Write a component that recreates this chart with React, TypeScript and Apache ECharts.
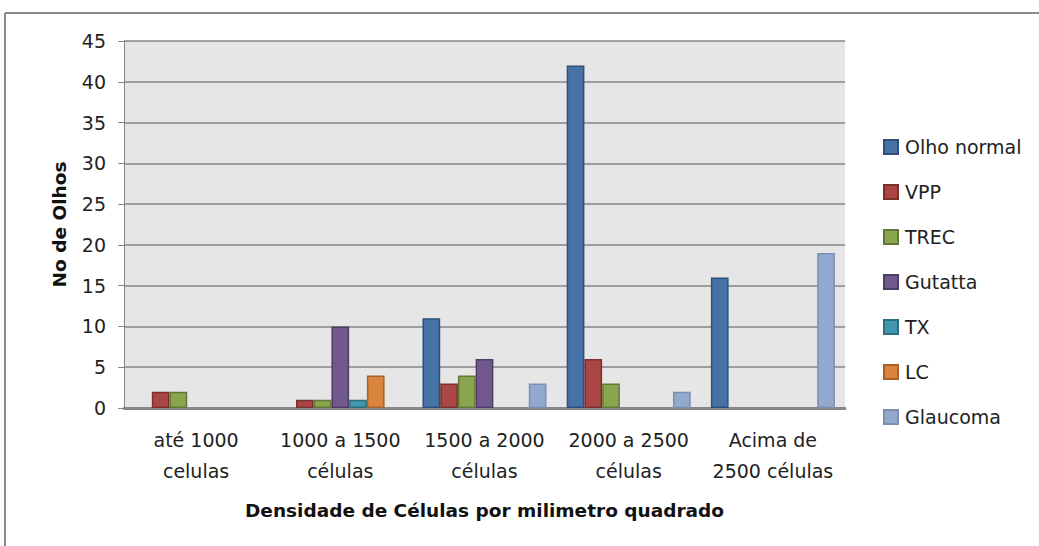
import React, { useEffect, useRef } from "react";
import * as echarts from "echarts";

const categories = ["até 1000\ncelulas", "1000 a 1500\ncélulas", "1500 a 2000\ncélulas", "2000 a 2500\ncélulas", "Acima de\n2500 células"];
const seriesNames = ["Olho normal", "VPP", "TREC", "Gutatta", "TX", "LC", "Glaucoma"];
const olhoNormal = [0, 0, 11, 42, 16];
const vpp = [2, 1, 3, 6, 0];
const trec = [2, 1, 4, 3, 0];
const gutatta = [0, 10, 6, 0, 0];
const tx = [0, 1, 0, 0, 0];
const lc = [0, 4, 0, 0, 0];
const glaucoma = [0, 0, 3, 2, 19];
const yTicks = [0, 5, 10, 15, 20, 25, 30, 35, 40, 45];

const fills = ["#4572A7", "#AA4643", "#89A54E", "#71588F", "#4198AF", "#DB843D", "#93A9CF"];
const borders = ["#2F4F78", "#7A302E", "#617838", "#4E3D66", "#2C6D7E", "#A7622A", "#7D8FB0"];

export default function App() {
  const ref = useRef<HTMLDivElement>(null);
  useEffect(() => {
    const chart = echarts.init(ref.current!, null, { renderer: "svg" });
    const data = [olhoNormal, vpp, trec, gutatta, tx, lc, glaucoma];
    const font = "'DejaVu Sans', 'Noto Sans', sans-serif";
    chart.setOption({
      animation: false,
      backgroundColor: "#ffffff",
      textStyle: { fontFamily: font },
      graphic: [
        { type: "line", shape: { x1: 5, y1: 13, x2: 1039, y2: 13 }, style: { stroke: "#8a8a8a", lineWidth: 2 } },
        { type: "line", shape: { x1: 5, y1: 13, x2: 5, y2: 546 }, style: { stroke: "#8a8a8a", lineWidth: 2 } },
      ],
      grid: {
        left: 124,
        right: 194,
        top: 41,
        bottom: 138,
        show: true,
        backgroundColor: "#e6e6e6",
        borderWidth: 0,
      },
      legend: {
        orient: "vertical",
        left: 878,
        top: 132,
        itemWidth: 14,
        itemHeight: 14,
        itemGap: 25,
        icon: "rect",
        textStyle: { fontSize: 19, color: "#222", fontFamily: font, lineHeight: 20, padding: [0, 0, 0, 2] },
        data: seriesNames,
      },
      xAxis: {
        type: "category",
        data: categories,
        axisLine: { lineStyle: { color: "#868686", width: 3 } },
        axisTick: { show: false },
        axisLabel: { fontSize: 19, color: "#222", lineHeight: 31, margin: 16, interval: 0 },
        name: "Densidade de Células por milimetro quadrado",
        nameLocation: "middle",
        nameGap: 93,
        nameTextStyle: { fontSize: 18.5, fontWeight: "bold", color: "#111" },
      },
      yAxis: {
        type: "value",
        min: 0,
        max: 45,
        interval: 5,
        axisLine: { show: true, lineStyle: { color: "#868686", width: 1 } },
        axisTick: { show: true, length: 6, lineStyle: { color: "#868686" } },
        axisLabel: { fontSize: 19, color: "#222", margin: 18, formatter: (v: number) => (yTicks.includes(v) ? String(v) : "") },
        splitLine: { lineStyle: { color: "#868686", width: 1.5 } },
        name: "No de Olhos",
        nameLocation: "middle",
        nameGap: 55,
        nameTextStyle: { fontSize: 18.5, fontWeight: "bold", color: "#111" },
      },
      series: seriesNames.map((n, i) => ({
        name: n,
        type: "bar",
        data: data[i].map((v) => (v === 0 ? null : v)),
        barGap: "0%",
        barCategoryGap: "14%",
        itemStyle: { color: fills[i], borderColor: borders[i], borderWidth: 1.5 },
      })),
    });
    return () => chart.dispose();
  }, []);
  return <div ref={ref} style={{ position: "fixed", left: 0, top: 0, width: 1039, height: 546 }} />;
}
